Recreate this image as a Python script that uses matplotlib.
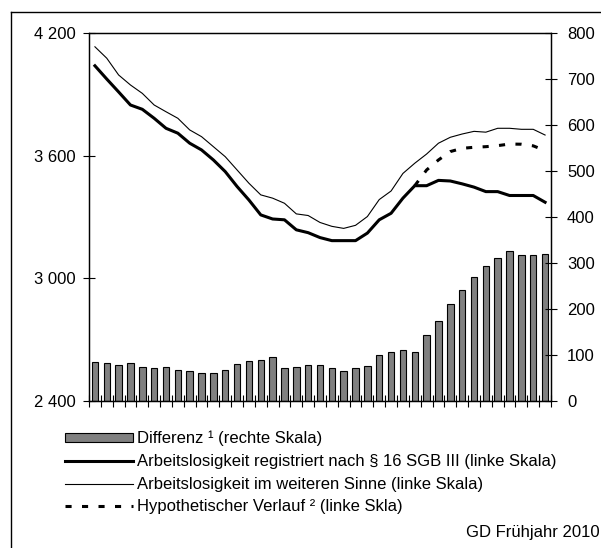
import matplotlib
matplotlib.use("Agg")
import matplotlib.pyplot as plt
import numpy as np
from matplotlib.lines import Line2D
from matplotlib.patches import Patch

plt.rcParams['font.family'] = ['Liberation Sans', 'DejaVu Sans']
plt.rcParams['font.size'] = 12

# Differenz (rechte Skala), in thousands
differenz = [85, 83, 78, 83, 75, 72, 75, 68, 65, 62, 62, 68, 80, 86, 90, 96, 72, 75, 78, 78,
             72, 65, 72, 77, 101, 107, 110, 107, 144, 175, 212, 241, 269, 293, 311, 327, 317, 317, 320]

# Arbeitslosigkeit registriert nach SGB III (linke Skala)
registriert = [4041, 3976, 3913, 3849, 3828, 3784, 3735, 3711, 3662, 3629, 3580, 3523, 3450, 3384,
               3311, 3291, 3287, 3238, 3224, 3200, 3185, 3185, 3185, 3222, 3287, 3319, 3393, 3454,
               3454, 3480, 3477, 3463, 3447, 3425, 3425, 3406, 3406, 3406, 3373]

# Arbeitslosigkeit im weiteren Sinne (linke Skala)
weiter = [4134, 4078, 3996, 3947, 3906, 3849, 3816, 3784, 3727, 3694, 3645, 3596, 3531, 3466,
          3409, 3393, 3368, 3316, 3308, 3274, 3255, 3245, 3260, 3303, 3386, 3428, 3514, 3564,
          3609, 3662, 3691, 3707, 3720, 3716, 3735, 3735, 3730, 3730, 3702]

# Hypothetischer Verlauf, starts at month 28
hypo_start = 27
hypothetisch = [3454, 3531, 3580, 3621, 3637, 3642, 3645, 3650, 3658, 3657, 3649, 3626]

left_ticks = [2400, 3000, 3600, 4200]
left_labels = ['2 400', '3 000', '3 600', '4 200']
right_ticks = [0, 100, 200, 300, 400, 500, 600, 700, 800]

n = len(differenz)
x = np.arange(n)

fig = plt.figure(figsize=(6.01, 5.48), dpi=100)
ax = fig.add_axes([89/601, 1-401/548, (551-89)/601, (401-33.3)/548])
ax2 = ax.twinx()

# bars on the right scale, drawn behind the lines
ax2.bar(x, differenz, width=0.55, color='#808080', edgecolor='black', linewidth=0.8)
ax2.set_ylim(0, 800)
ax2.set_yticks(right_ticks)
ax2.tick_params(axis='y', direction='inout', length=9, width=0.8, pad=7, labelsize=12)

ax.set_zorder(ax2.get_zorder() + 1)
ax.patch.set_visible(False)

ax.plot(x, registriert, color='black', lw=2.2, solid_joinstyle='round')
ax.plot(x, weiter, color='black', lw=0.8)
ax.plot(x[hypo_start:], hypothetisch, color='black', lw=2.2, linestyle=(0, (2.0, 3.4)))

ax.set_ylim(2400, 4200)
ax.set_yticks(left_ticks)
ax.set_yticklabels(left_labels)
ax.set_xlim(-0.5, n - 0.5)
ax.set_xticks(np.arange(-0.5, n, 1))
ax.set_xticklabels([])
ax.tick_params(axis='y', direction='inout', length=9, width=0.8, pad=5, labelsize=12)
ax.tick_params(axis='x', direction='inout', length=9, width=0.8)

for a in (ax, ax2):
    for s in a.spines.values():
        s.set_linewidth(0.9)

handles = [
    Patch(facecolor='#808080', edgecolor='black', linewidth=0.8),
    Line2D([], [], color='black', lw=2.2),
    Line2D([], [], color='black', lw=0.8),
    Line2D([], [], color='black', lw=2.2, linestyle=(0, (2.0, 3.4))),
]
labels = [
    'Differenz \u00b9 (rechte Skala)',
    'Arbeitslosigkeit registriert nach \u00a7 16 SGB III (linke Skala)',
    'Arbeitslosigkeit im weiteren Sinne (linke Skala)',
    'Hypothetischer Verlauf \u00b2 (linke Skla)',
]
fig.legend(handles, labels, loc='upper left', bbox_to_anchor=(65/601, 1-431/548),
           frameon=False, borderpad=0, borderaxespad=0, handlelength=4.1,
           handletextpad=0.2, labelspacing=0.46, handleheight=0.5, fontsize=12)

fig.text(466/601, 1-533/548, 'GD Fr\u00fchjahr 2010', ha='left', va='center', fontsize=12)

# outer frame of the figure (cut at right and bottom)
fig.add_artist(Line2D([11/601, 1.0], [1-12/548, 1-12/548], transform=fig.transFigure,
                      color='black', lw=1.0))
fig.add_artist(Line2D([11/601, 11/601], [0.0, 1-12/548], transform=fig.transFigure,
                      color='black', lw=1.0))

fig.savefig('out.png', dpi=100)
